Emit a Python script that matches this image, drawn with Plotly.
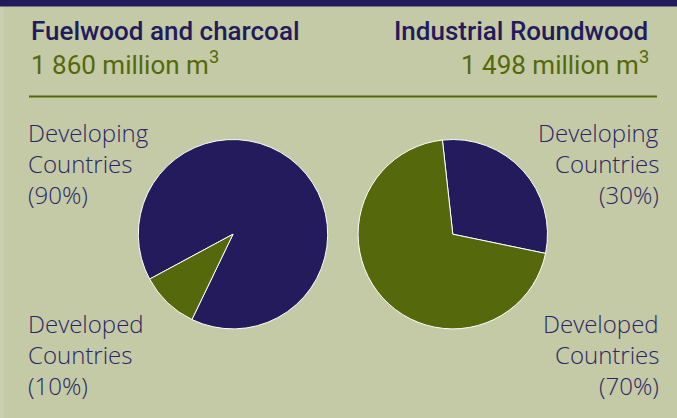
import plotly.graph_objects as go

# ---- data ----
groups = ["Fuelwood and charcoal", "Industrial Roundwood"]
volumes = [1860, 1498]  # million m3
categories = ["Developing Countries", "Developed Countries"]
fuelwood_shares = [90, 10]
industrial_shares = [30, 70]

# ---- style ----
W, H = 677, 418
BG = "#c3caa5"
NAVY = "#231b5c"
OLIVE = "#55680b"
TXT_NAVY = "#2b2567"
FONT = "Roboto"
LABEL_FONT = "Open Sans"


def px(x):
    return x / W


def py(y):
    return 1 - y / H


def fmt(v):
    return f"{v:,}".replace(",", " ")


fig = go.Figure()

pie_centers = [(233.0, 234.2), (452.8, 234.2)]
R = 94.7
rotations = [241.7, -6.3]
shares = [fuelwood_shares, industrial_shares]

for (cx, cy), rot, vals in zip(pie_centers, rotations, shares):
    fig.add_trace(go.Pie(
        labels=categories,
        values=vals,
        sort=False,
        direction="clockwise",
        rotation=rot,
        textinfo="none",
        hoverinfo="label+percent",
        marker=dict(colors=[NAVY, OLIVE], line=dict(color="#ffffff", width=1)),
        domain=dict(x=[px(cx - R), px(cx + R)], y=[py(cy + R), py(cy - R)]),
        showlegend=False,
    ))

annotations = []
# titles
title_x = [(29, 29, "left"), (650, 651, "right")]
for (x1, x2, anchor), g, v in zip(title_x, groups, volumes):
    annotations.append(dict(
        x=px(x1), y=py(31), xref="paper", yref="paper", xanchor=anchor, yanchor="middle",
        text=g, showarrow=False,
        font=dict(family=FONT, size=26, color=NAVY, weight=500),
    ))
    annotations.append(dict(
        x=px(x2), y=py(63), xref="paper", yref="paper", xanchor=anchor, yanchor="middle",
        text=f"{fmt(v)} million m<sup>3</sup>", showarrow=False,
        font=dict(family=FONT, size=26, color=OLIVE, weight=400),
    ))

# slice labels
label_x = [(26, "left"), (661, "right")]
row_y = {0: [132, 163, 194], 1: [323, 354, 385]}
for (x, anchor), vals in zip(label_x, shares):
    for ci, (cat, val) in enumerate(zip(categories, vals)):
        lines = cat.split(" ") + [f"({val}%)"]
        for line, yy in zip(lines, row_y[ci]):
            annotations.append(dict(
                x=px(x), y=py(yy), xref="paper", yref="paper", xanchor=anchor,
                yanchor="middle", text=line, showarrow=False,
                font=dict(family=LABEL_FONT, size=24, color=TXT_NAVY, weight=300),
            ))

shapes = [
    dict(type="rect", xref="paper", yref="paper", x0=0, x1=1, y0=py(6.5), y1=1,
         fillcolor=NAVY, line=dict(width=0), layer="above"),
    dict(type="rect", xref="paper", yref="paper", x0=0, x1=px(3.5), y0=0, y1=py(6.5),
         fillcolor="#c9cfaf", line=dict(width=0), layer="below"),
    dict(type="line", xref="paper", yref="paper", x0=px(29), x1=px(657),
         y0=py(96.5), y1=py(96.5), line=dict(color=OLIVE, width=2)),
]

fig.update_layout(
    width=W, height=H,
    margin=dict(l=0, r=0, t=0, b=0),
    paper_bgcolor=BG, plot_bgcolor=BG,
    annotations=annotations,
    shapes=shapes,
)

fig.write_html(
    "out.html",
    config={"displayModeBar": False},
    post_script="document.body.style.margin='0';document.body.style.overflow='hidden';",
)
